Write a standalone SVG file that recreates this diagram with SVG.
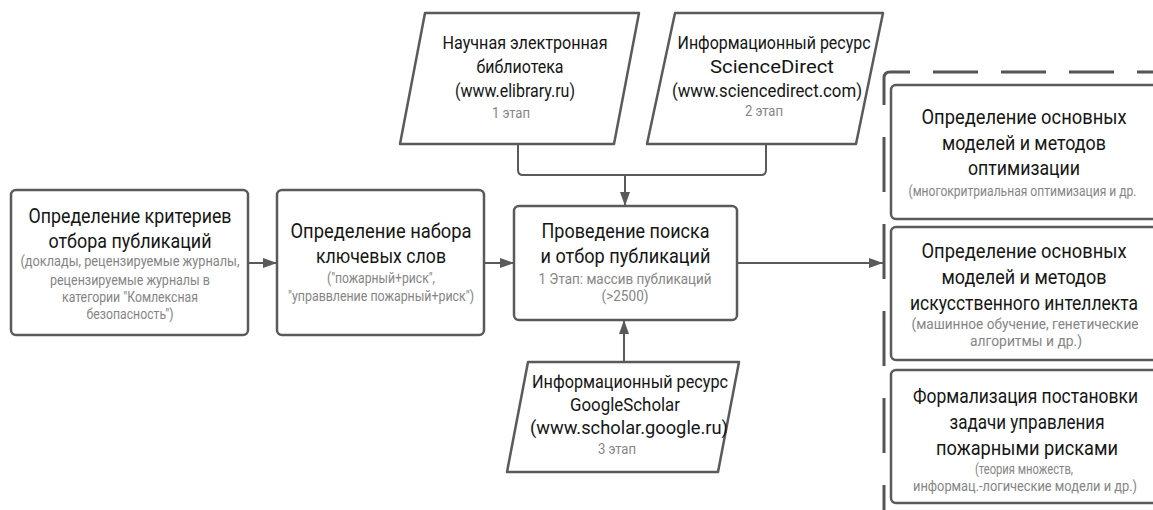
<svg xmlns="http://www.w3.org/2000/svg" width="1153" height="510" viewBox="0 0 1153 510">
<style>
.box{fill:#fff;stroke:#5a5a5a;stroke-width:2.5;}
.para{fill:#fff;stroke:#5a5a5a;stroke-width:2.5;stroke-linejoin:round;}
.t{font-family:Roboto,"Liberation Sans",Arial,sans-serif;font-size:19.5px;fill:#151515;text-anchor:middle;}
.p{font-family:Roboto,"Liberation Sans",Arial,sans-serif;font-size:19px;fill:#151515;text-anchor:middle;}
.s{font-family:Roboto,"Liberation Sans",Arial,sans-serif;font-size:14.5px;fill:#858585;text-anchor:middle;}
.con{fill:none;stroke:#5a5a5a;stroke-width:2;}
.frame{fill:none;stroke:#555;stroke-width:3;}
</style>
<defs>
<marker id="ah" viewBox="0 0 14 10" refX="14" refY="5" markerWidth="14" markerHeight="10" markerUnits="userSpaceOnUse" orient="auto">
<path d="M0,0 L14,5 L0,10 z" fill="#5a5a5a"/>
</marker>
</defs>
<rect width="1153" height="510" fill="#fff"/>

<g id="frame">
<path class="frame" d="M884,105 V78 Q884,72 890,72 H910"/>
<path class="frame" d="M933,72 H1160" stroke-dasharray="45 23"/>
<path class="frame" d="M884,137 V515" stroke-dasharray="55 32"/>
</g>

<g id="connectors">
<path class="con" d="M248,263 H277" marker-end="url(#ah)"/>
<path class="con" d="M484,263 H514" marker-end="url(#ah)"/>
<path class="con" d="M737,263 H883" marker-end="url(#ah)"/>
<path class="con" d="M518,144 V170 Q518,175 523,175 H761 Q766,175 766,170 V144"/>
<path class="con" d="M625,175 V206" marker-end="url(#ah)"/>
<path class="con" d="M624,362 V320" marker-end="url(#ah)"/>
</g>

<g id="criteria">
<rect class="box" x="11" y="190" width="237" height="145" rx="5"/>
<text class="t" x="130" y="223" textLength="203" lengthAdjust="spacingAndGlyphs">Определение критериев</text>
<text class="t" x="130" y="248" textLength="163" lengthAdjust="spacingAndGlyphs">отбора публикаций</text>
<text class="s" x="130" y="266" textLength="219" lengthAdjust="spacingAndGlyphs">(доклады, рецензируемые журналы,</text>
<text class="s" x="130" y="285" textLength="160" lengthAdjust="spacingAndGlyphs">рецензируемые журналы в</text>
<text class="s" x="130" y="302" textLength="136" lengthAdjust="spacingAndGlyphs">категории "Комлексная</text>
<text class="s" x="130" y="319" textLength="87" lengthAdjust="spacingAndGlyphs">безопасность")</text>
</g>

<g id="keywords">
<rect class="box" x="277" y="190" width="207" height="145" rx="5"/>
<text class="t" x="381" y="238" textLength="181" lengthAdjust="spacingAndGlyphs">Определение набора</text>
<text class="t" x="381" y="263" textLength="130" lengthAdjust="spacingAndGlyphs">ключевых слов</text>
<text class="s" x="381" y="283" textLength="108" lengthAdjust="spacingAndGlyphs">("пожарный+риск",</text>
<text class="s" x="381" y="301" textLength="186" lengthAdjust="spacingAndGlyphs">"управвление пожарный+риск")</text>
</g>

<g id="search">
<rect class="box" x="514" y="206" width="223" height="114" rx="5"/>
<text class="t" x="625.5" y="238" textLength="168" lengthAdjust="spacingAndGlyphs">Проведение поиска</text>
<text class="t" x="625.5" y="263" textLength="170" lengthAdjust="spacingAndGlyphs">и отбор публикаций</text>
<text class="s" x="625" y="284" textLength="173" lengthAdjust="spacingAndGlyphs">1 Этап: массив публикаций</text>
<text class="s" x="625" y="301" textLength="47" lengthAdjust="spacingAndGlyphs">(&gt;2500)</text>
</g>

<g id="elibrary">
<path class="para" d="M425,13 H639 L614,144 H400 Z"/>
<text class="p" x="525" y="49" textLength="165" lengthAdjust="spacingAndGlyphs">Научная электронная</text>
<text class="p" x="520" y="73" textLength="87" lengthAdjust="spacingAndGlyphs">библиотека</text>
<text class="p" x="515" y="97" textLength="120" lengthAdjust="spacingAndGlyphs">(www.elibrary.ru)</text>
<text class="s" x="511" y="118" textLength="38" lengthAdjust="spacingAndGlyphs">1 этап</text>
</g>

<g id="sciencedirect">
<path class="para" d="M675,13 H883 L856,144 H647 Z"/>
<text class="p" x="774" y="49" textLength="193" lengthAdjust="spacingAndGlyphs">Информационный ресурс</text>
<text class="p" x="772" y="73" textLength="124" lengthAdjust="spacingAndGlyphs">ScienceDirect</text>
<text class="p" x="767" y="97" textLength="190" lengthAdjust="spacingAndGlyphs">(www.sciencedirect.com)</text>
<text class="s" x="764" y="116" textLength="38" lengthAdjust="spacingAndGlyphs">2 этап</text>
</g>

<g id="googlescholar">
<path class="para" d="M528,362 H739 L718,472 H507 Z"/>
<text class="p" x="630" y="388" textLength="196" lengthAdjust="spacingAndGlyphs">Информационный ресурс</text>
<text class="p" x="625" y="411" textLength="110" lengthAdjust="spacingAndGlyphs">GoogleScholar</text>
<text class="p" x="629" y="434" textLength="198" lengthAdjust="spacingAndGlyphs">(www.scholar.google.ru)</text>
<text class="s" x="617" y="454" textLength="38" lengthAdjust="spacingAndGlyphs">3 этап</text>
</g>

<g id="optimization">
<rect class="box" x="891" y="85" width="266" height="134" rx="5"/>
<text class="t" x="1024" y="124" textLength="205" lengthAdjust="spacingAndGlyphs">Определение основных</text>
<text class="t" x="1024" y="150" textLength="164" lengthAdjust="spacingAndGlyphs">моделей и методов</text>
<text class="t" x="1024" y="175" textLength="112" lengthAdjust="spacingAndGlyphs">оптимизации</text>
<text class="s" x="1022.5" y="196" font-size="12.5" textLength="228" lengthAdjust="spacingAndGlyphs">(многокритриальная оптимизация и др.</text>
</g>

<g id="ai">
<rect class="box" x="891" y="227" width="266" height="133" rx="5"/>
<text class="t" x="1024" y="258" textLength="205" lengthAdjust="spacingAndGlyphs">Определение основных</text>
<text class="t" x="1024" y="284" textLength="165" lengthAdjust="spacingAndGlyphs">моделей и методов</text>
<text class="t" x="1024" y="310" font-size="18" textLength="228" lengthAdjust="spacingAndGlyphs">искусственного интеллекта</text>
<text class="s" x="1025" y="329" font-size="14" textLength="227" lengthAdjust="spacingAndGlyphs">(машинное обучение, генетические</text>
<text class="s" x="1026" y="346" textLength="112" lengthAdjust="spacingAndGlyphs">алгоритмы и др.)</text>
</g>

<g id="formalization">
<rect class="box" x="891" y="370" width="266" height="133" rx="5"/>
<text class="t" x="1025.5" y="403" font-size="18" textLength="225" lengthAdjust="spacingAndGlyphs">Формализация постановки</text>
<text class="t" x="1027" y="429" textLength="155" lengthAdjust="spacingAndGlyphs">задачи управления</text>
<text class="t" x="1027" y="455" textLength="182" lengthAdjust="spacingAndGlyphs">пожарными рисками</text>
<text class="s" x="1024" y="474" textLength="98" lengthAdjust="spacingAndGlyphs">(теория множеств,</text>
<text class="s" x="1025" y="491" font-size="13.5" textLength="224" lengthAdjust="spacingAndGlyphs">информац.-логические модели и др.)</text>
</g>
</svg>
